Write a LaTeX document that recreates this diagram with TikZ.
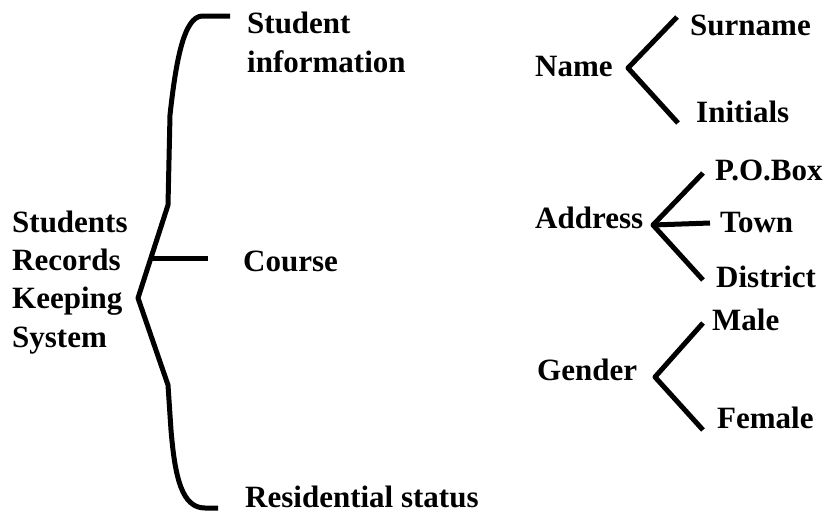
\documentclass[tikz,border=0pt]{standalone}
\usepackage{fontspec}
\setmainfont{Liberation Serif}
\begin{document}
\begin{tikzpicture}[x=1pt,y=-1pt,
  lbl/.style={anchor=base west,inner sep=0pt,font=\fontsize{31}{38}\selectfont\bfseries},
  br/.style={line width=5pt,line join=round}]
\useasboundingbox (0,0) rectangle (828,515);
% left root
\node[lbl] (s1) at (12,232) {Students};
\node[lbl] (s2) at (12,270) {Records};
\node[lbl] (s3) at (12,308) {Keeping};
\node[lbl] (s4) at (12,347) {System};
% middle
\node[lbl] (si1) at (247,33) {Student};
\node[lbl] (si2) at (247,72) {information};
\node[lbl] (co) at (243,271) {Course};
\node[lbl] (rs) at (245,507) {Residential status};
% brace
\coordinate (btop) at (230,16);
\coordinate (bbot) at (218,508);
\coordinate (tip) at (138,298);
\coordinate (cj) at (151,258);
\coordinate (ce) at (208,258);
\draw[br] (btop) -- (202,16) .. controls (184,17) and (176,60) .. (170,115) -- (168,205) -- (tip) -- (168,385) -- (171,430) .. controls (175,478) and (182,508) .. (205,508) -- (bbot);
\draw[br] (cj) -- (ce);
% right side
\node[lbl] (nm) at (535,76) {Name};
\node[lbl] (sn) at (690,35) {Surname};
\node[lbl] (in) at (696,122) {Initials};
\coordinate (nv) at (628,68);
\coordinate (nu) at (677,17);
\coordinate (nl) at (678,123);
\draw[br] (nu) -- (nv) -- (nl);
\node[lbl] (ad) at (535,228) {Address};
\node[lbl] (po) at (715,180) {P.O.Box};
\node[lbl] (tw) at (720,232) {Town};
\node[lbl] (di) at (716,287) {District};
\coordinate (av) at (653,225);
\coordinate (au) at (703,173);
\coordinate (am) at (710,223);
\coordinate (al) at (703,280);
\draw[br] (au) -- (av) -- (al);
\draw[br] (av) -- (am);
\node[lbl] (ge) at (537,380) {Gender};
\node[lbl] (ma) at (712,330) {Male};
\node[lbl] (fe) at (717,428) {Female};
\coordinate (gv) at (655,377);
\coordinate (gu) at (703,323);
\coordinate (gl) at (703,430);
\draw[br] (gu) -- (gv) -- (gl);
\end{tikzpicture}
\end{document}
